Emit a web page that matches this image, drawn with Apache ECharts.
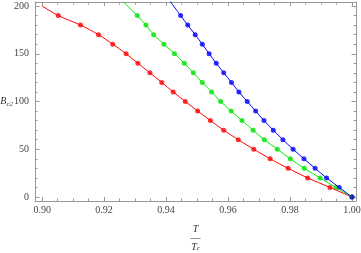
<!DOCTYPE html>
<html>
<head>
<meta charset="utf-8">
<script src="https://cdn.jsdelivr.net/npm/echarts@6/dist/echarts.min.js"></script>
<style>html,body{margin:0;padding:0;background:#fff;}#c{width:361px;height:253px;}</style>
</head>
<body>
<div id="c"></div>
<script>
// B values of the markers (shared by all three series)
var bValues = [190,180,170,160,150,140,130,120,110,100,90,80,70,60,50,40,30,20,10,0];
// T/Tc of each marker, per series
var redT   = [0.9052,0.9124,0.9182,0.9228,0.9271,0.9309,0.9348,0.9386,0.9423,0.9462,0.9502,0.9543,0.9586,0.9633,0.9683,0.9736,0.9794,0.9857,0.9929,1.0];
var greenT = [0.9307,0.9335,0.9360,0.9393,0.9427,0.9459,0.9488,0.9517,0.9547,0.9576,0.9610,0.9645,0.9681,0.9717,0.9759,0.9801,0.9846,0.9897,0.9948,1.0];
var blueT  = [0.9447,0.9470,0.9494,0.9517,0.9539,0.9562,0.9586,0.9611,0.9635,0.9662,0.9689,0.9716,0.9746,0.9777,0.9810,0.9845,0.9881,0.9918,0.9959,1.0];
// where each fitted curve enters the frame (T, B)
var redStart   = [0.9000, 200];
var greenStart = [0.9260, 205];
var blueStart  = [0.9413, 205];
// axis ticks (major) and frame extents
var xTicks = [0.90, 0.92, 0.94, 0.96, 0.98, 1.00];
var yTicks = [0, 50, 100, 150, 200];
var xRange = [0.8977, 1.0013];
var yRange = [-4.2, 204.2];

function pts(ts){ return ts.map(function(t,i){ return [t, bValues[i]]; }); }
function minors(ticks, n){
  var out = [];
  for (var i = 0; i < ticks.length - 1; i++) {
    var step = (ticks[i+1] - ticks[i]) / n;
    for (var k = 1; k < n; k++) out.push(ticks[i] + step * k);
  }
  return out;
}
var xMinor = minors(xTicks, 4);
var yMinor = minors(yTicks, 5);

var FONT = 'Liberation Serif';
var GRAY = '#999999';
var chart = echarts.init(document.getElementById('c'), null, {renderer:'canvas'});

function xAxis(pos, values, len, withLine, labels){
  return {
    type:'value', gridIndex:0, position:pos, min:xRange[0], max:xRange[1],
    axisLine:{show:withLine, onZero:false, lineStyle:{color:GRAY, width:1}},
    axisTick:{show:true, inside:true, length:len, customValues:values, lineStyle:{color:GRAY}},
    splitLine:{show:false},
    axisLabel:{show:labels, customValues:values, margin:4, color:'#444', fontFamily:FONT, fontSize:10,
      formatter:function(v){return v.toFixed(2);}}
  };
}
function yAxis(pos, values, len, withLine, labels){
  return {
    type:'value', gridIndex:0, position:pos, min:yRange[0], max:yRange[1],
    axisLine:{show:withLine, onZero:false, lineStyle:{color:GRAY, width:1}},
    axisTick:{show:true, inside:true, length:len, customValues:values, lineStyle:{color:GRAY}},
    splitLine:{show:false},
    axisLabel:{show:labels, customValues:values, margin:6, color:'#444', fontFamily:FONT, fontSize:10,
      formatter:function(v){return String(Math.round(v));}}
  };
}

var xb = xAxis('bottom', xTicks, 4, true, true);
xb.name = '{t|T}\n{bar|—}\n{t|T}{s|c}';
xb.nameLocation = 'middle';
xb.nameGap = 24;
xb.nameMoveOverlap = false;
xb.nameTextStyle = {
  color:'#333', fontFamily:FONT,
  rich:{
    t:{fontFamily:FONT, fontStyle:'italic', fontSize:10, lineHeight:9, color:'#333'},
    bar:{fontFamily:FONT, fontSize:10, lineHeight:9, color:'#333'},
    s:{fontFamily:FONT, fontStyle:'italic', fontSize:7, lineHeight:9, verticalAlign:'bottom', padding:[3,0,0,0], color:'#333'}
  }
};
var yl = yAxis('left', yTicks, 4.5, true, true);
yl.name = '{b|B}{s|c2}';
yl.nameLocation = 'middle';
yl.nameRotate = 0;
yl.nameGap = 22;
yl.nameMoveOverlap = false;
yl.nameTextStyle = {
  color:'#333', fontFamily:FONT,
  rich:{
    b:{fontFamily:FONT, fontStyle:'italic', fontSize:10, lineHeight:12, color:'#333'},
    s:{fontFamily:FONT, fontStyle:'italic', fontSize:7, lineHeight:12, verticalAlign:'bottom', padding:[4,0,0,0], color:'#333'}
  }
};

function curve(start, ts, color){
  return {type:'line', xAxisIndex:0, yAxisIndex:0, data:[start].concat(pts(ts)),
    smooth:0.3, showSymbol:false, clip:true, silent:true,
    lineStyle:{color:color, width:1}};
}
function dots(ts, color){
  return {type:'scatter', xAxisIndex:0, yAxisIndex:0, data:pts(ts),
    symbol:'circle', symbolSize:5, itemStyle:{color:color}, silent:true, clip:false};
}

chart.setOption({
  animation:false,
  grid:[{left:35, top:2, width:321, height:199, outerBoundsMode:'none', containLabel:false}],
  xAxis:[
    xb,
    xAxis('top', xTicks, 4, true, false),
    xAxis('bottom', xMinor, 2.5, false, false),
    xAxis('top', xMinor, 2.5, false, false)
  ],
  yAxis:[
    yl,
    yAxis('right', yTicks, 4.5, true, false),
    yAxis('left', yMinor, 2.5, false, false),
    yAxis('right', yMinor, 2.5, false, false)
  ],
  series:[
    curve(redStart, redT, '#ff0000'),
    curve(greenStart, greenT, '#00ee00'),
    curve(blueStart, blueT, '#0000ff'),
    dots(redT, '#ff0000'),
    dots(greenT, '#00e000'),
    dots(blueT, '#0000ff')
  ]
});
</script>
</body>
</html>
